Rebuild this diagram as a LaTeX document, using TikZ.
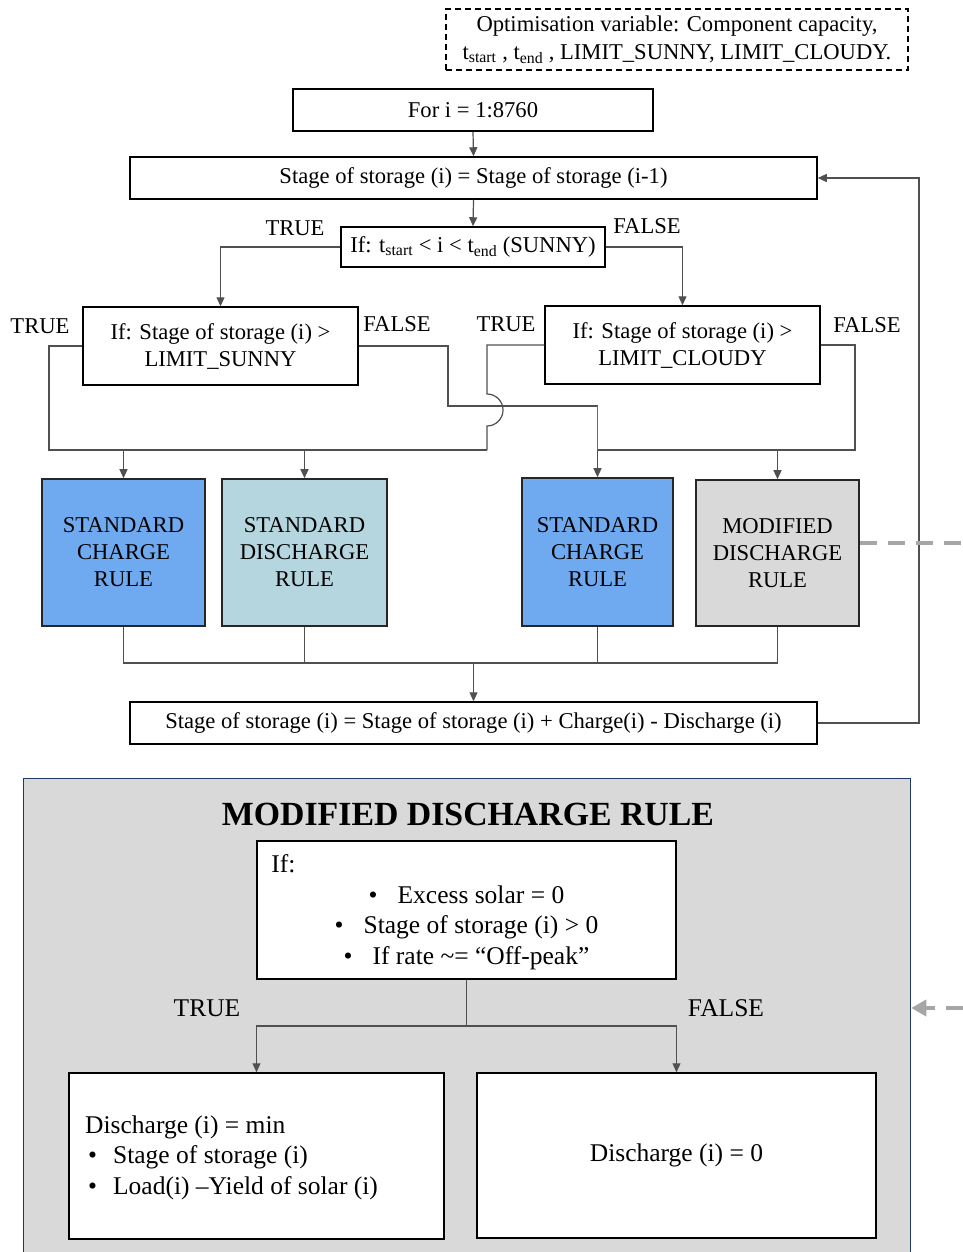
\documentclass[tikz,border=0pt]{standalone}
\usepackage{fontspec}
\setmainfont{Liberation Serif}
\usetikzlibrary{arrows.meta,calc}
\definecolor{chargeblue}{RGB}{111,170,240}
\definecolor{dischblue}{RGB}{181,213,223}
\definecolor{modgrey}{RGB}{217,217,217}
\definecolor{panelgrey}{RGB}{217,217,217}
\definecolor{panelblue}{RGB}{31,56,100}
\definecolor{wirecol}{RGB}{80,80,80}
\definecolor{linkblue}{RGB}{68,114,196}
\definecolor{dashgrey}{RGB}{166,166,166}

\begin{document}
\begin{tikzpicture}[x=1pt,y=-1pt,
  txt/.style={font=\fontsize{22.6}{27}\selectfont, text=black, inner sep=0pt},
  ptxt/.style={txt, font=\fontsize{25.5}{30.5}\selectfont},
  box/.style={txt, draw=black, line width=1.5pt, fill=white, align=center},
  pbox/.style={box, font=\fontsize{25.5}{30.5}\selectfont},
  rulebox/.style={box, line width=1.6pt, draw=black!85},
  wire/.style={draw=wirecol, line width=1.2pt},
  arr/.style={wire, -{Triangle[length=9pt,width=8pt]}},
  lbl/.style={txt},
  plbl/.style={ptxt},
  gdash/.style={draw=dashgrey, line width=4pt, dash pattern=on 17pt off 11pt},
]
\clip (0,0) rectangle (963,1252);
\fill[white] (0,0) rectangle (963,1252);

% ---------- main loop ----------
\node[box, line width=1.3pt, dash pattern=on 6pt off 4pt, font=\fontsize{22.6}{28}\selectfont,
      minimum width=462pt, minimum height=61pt] (opt) at (677,39.5)
  {Optimisation variable: Component capacity,\\
   t\textsubscript{start} , t\textsubscript{end} , LIMIT\_SUNNY, LIMIT\_CLOUDY.};

\node[box, minimum width=360pt, minimum height=42pt] (fori) at (473,110) {For i = 1:8760};
\node[box, minimum width=687pt, minimum height=42pt] (stage) at (473.5,178)
  {Stage of storage (i) = Stage of storage (i-1)};
\node[box, minimum width=264pt, minimum height=40pt] (sunny) at (473,247)
  {If: t\textsubscript{start} < i < t\textsubscript{end} (SUNNY)};

\node[box, minimum width=275pt, minimum height=78pt] (limS) at (220.5,346)
  {If: Stage of storage (i) >\\ LIMIT\_SUNNY};
\node[box, minimum width=275pt, minimum height=78pt] (limC) at (682.5,345)
  {If: Stage of storage (i) >\\ LIMIT\_CLOUDY};

\node[rulebox, fill=chargeblue, minimum width=163pt, minimum height=147pt] (scr1) at (123.5,552.5)
  {STANDARD\\ CHARGE\\ RULE};
\node[rulebox, fill=dischblue, minimum width=165pt, minimum height=147pt] (sdr) at (304.5,552.5)
  {STANDARD\\ DISCHARGE\\ RULE};
\node[rulebox, fill=chargeblue, minimum width=151pt, minimum height=148pt] (scr2) at (597.5,552)
  {STANDARD\\ CHARGE\\ RULE};
\node[rulebox, fill=modgrey, minimum width=163pt, minimum height=146pt] (mdr) at (777.5,553)
  {MODIFIED\\ DISCHARGE\\ RULE};

\node[box, minimum width=687pt, minimum height=42pt] (upd) at (473.5,723)
  {Stage of storage (i) = Stage of storage (i) + Charge(i) - Discharge (i)};

% branch labels
\node[lbl] (tSun) at (295,228) {TRUE};
\node[lbl] (fSun) at (647,226) {FALSE};
\node[lbl] (tLS) at (40,326) {TRUE};
\node[lbl] (fLS) at (397,324) {FALSE};
\node[lbl] (tLC) at (506,324) {TRUE};
\node[lbl] (fLC) at (867,325) {FALSE};

% connectors
\draw[arr] (fori.south) -- (stage.north);
\draw[arr] (stage.south) -- (sunny.north);
\draw[arr] (sunny.west) -| (limS.north);
\draw[arr] (sunny.east) -| (limC.north);

\coordinate (jL) at (49,450);
\coordinate (jM) at (487,450);
\coordinate (fS) at (448,406);
\coordinate (jR) at (855,450);
\coordinate (jB) at (473.5,663);
\coordinate (fbB) at (919,723);

% TRUE branches to the left-hand rules
\draw[wire] (limS.west) -| (jL) -- (jM);
\draw[arr] (limS.east) -| (fS) -| (scr2.north);
\draw[line width=1.2pt, draw=linkblue] (scr2.north |- fS) -- (scr2.north |- jR);
\draw[wire] (limC.west) -| (487,394) arc[start angle=-90, end angle=90, radius=16] -- (jM);
\draw[arr] (scr1.north |- jL) -- (scr1.north);
\draw[arr] (sdr.north |- jL) -- (sdr.north);

% FALSE branch of the cloudy test
\draw[wire] (limC.east) -| (jR) -- (scr2.north |- jR);
\draw[arr] (mdr.north |- jR) -- (mdr.north);

% merge of the four rules
\draw[wire] (scr1.south) |- (mdr.south |- jB) -- (mdr.south);
\draw[wire] (sdr.south) -- (sdr.south |- jB);
\draw[wire] (scr2.south) -- (scr2.south |- jB);
\draw[arr] (jB) -- (upd.north);

% loop back
\draw[arr] (upd.east) -- (fbB) |- (stage.east);

% ---------- detail panel ----------
\node[draw=panelblue, line width=1.3pt, fill=panelgrey, minimum width=887pt, minimum height=500pt,
      anchor=north west, inner sep=0pt] (panel) at (23,778) {};
\node[font=\fontsize{33.8}{36}\selectfont\bfseries, inner sep=0pt] (ttl) at (468,814) {MODIFIED DISCHARGE RULE};

\node[pbox, minimum width=419pt, minimum height=138pt] (ifb) at (466.5,910) {};
\node[ptxt, anchor=base west] (ifl) at ($(ifb.north west)+(15,32)$) {If:};
\node[ptxt, align=center] (ifitems) at (466.5,927.5)
  {\textbullet\hspace{20pt}Excess solar = 0\\
   \textbullet\hspace{20pt}Stage of storage (i) > 0\\
   \textbullet\hspace{20pt}If rate \textasciitilde= “Off-peak”};

\node[pbox, minimum width=375pt, minimum height=166pt] (dmin) at (256.5,1156) {};
\node[ptxt, align=left, anchor=west] (dmintxt) at (85,1157.5)
  {Discharge (i) = min\\
   \hspace*{3pt}\textbullet\hspace{16pt}Stage of storage (i)\\
   \hspace*{3pt}\textbullet\hspace{16pt}Load(i) --Yield of solar (i)};
\node[pbox, minimum width=399pt, minimum height=165pt] (dzero) at (676.5,1155.5) {Discharge (i) = 0};

\node[plbl] (tB) at (207,1008) {TRUE};
\node[plbl] (fB) at (726,1008) {FALSE};

\coordinate (split) at (466.5,1026);
\draw[wire] (ifb.south) -- (split);
\draw[arr] (split) -| (dmin.north);
\draw[arr] (split) -| (dzero.north);

% link between the rule box and its detail panel
\coordinate (outA) at (963,543);
\coordinate (outB) at (963,1008);
\draw[gdash] (mdr.east |- outA) -- (outA);
\draw[gdash, -{Triangle[length=15pt,width=16pt]}] (outB) -- (panel.east |- outB);
\end{tikzpicture}
\end{document}
